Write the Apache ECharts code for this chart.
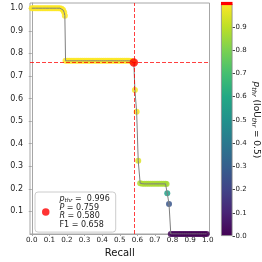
<!DOCTYPE html>
<html><head><meta charset="utf-8">
<script src="https://cdn.jsdelivr.net/npm/echarts@6/dist/echarts.min.js"></script>
<style>html,body{margin:0;padding:0;background:#fff}#c{width:262px;height:262px}</style>
</head><body><div id="c"></div>
<script>
// Precision-recall curve points with their confidence threshold p_thr
const recall = [
  0.000,0.010,0.020,0.030,0.040,0.050,0.060,0.070,0.080,0.090,0.100,0.110,0.120,0.130,0.140,0.150,0.160,0.170,0.178,0.184,0.188,
  0.192,0.204,0.216,0.228,0.240,0.252,0.264,0.276,0.288,0.300,0.312,0.324,0.336,0.348,0.360,0.372,0.384,0.396,0.408,0.420,0.432,0.444,0.456,0.468,0.480,0.492,0.504,0.516,0.528,0.540,0.552,0.564,0.574,
  0.580,
  0.586,0.596,0.605,
  0.616,0.628,0.640,0.652,0.664,0.676,0.688,0.700,0.712,0.724,0.736,0.748,0.760,0.766,
  0.770,0.780,
  0.790,0.802,0.814,0.826,0.838,0.850,0.862,0.874,0.886,0.898,0.910,0.922,0.934,0.946,0.958,0.970,0.982,0.994
];
const precision = [
  1.000,1.000,1.000,1.000,1.000,1.000,1.000,1.000,1.000,1.000,1.000,1.000,1.000,1.000,1.000,1.000,1.000,0.998,0.992,0.982,0.967,
  0.767,0.767,0.767,0.767,0.767,0.767,0.767,0.767,0.767,0.767,0.767,0.767,0.767,0.767,0.767,0.767,0.767,0.767,0.767,0.767,0.767,0.767,0.767,0.767,0.767,0.767,0.767,0.767,0.767,0.767,0.767,0.766,0.764,
  0.759,
  0.638,0.541,0.324,
  0.225,0.223,0.222,0.222,0.222,0.222,0.222,0.222,0.222,0.222,0.222,0.222,0.222,0.221,
  0.180,0.133,
  0.000,0.000,0.000,0.000,0.000,0.000,0.000,0.000,0.000,0.000,0.000,0.000,0.000,0.000,0.000,0.000,0.000,0.000
];
const pThr = [
  0.9999,0.9999,0.9999,0.9999,0.9999,0.9998,0.9998,0.9998,0.9998,0.9997,0.9997,0.9997,0.9996,0.9996,0.9995,0.9995,0.9994,0.9993,0.9992,0.9991,0.9990,
  0.9989,0.9988,0.9988,0.9987,0.9986,0.9986,0.9985,0.9984,0.9983,0.9983,0.9982,0.9981,0.9980,0.9979,0.9978,0.9977,0.9976,0.9975,0.9974,0.9973,0.9972,0.9971,0.9970,0.9969,0.9968,0.9967,0.9966,0.9965,0.9964,0.9963,0.9962,0.9961,0.9961,
  0.996,
  0.990,0.985,0.945,
  0.878,0.877,0.876,0.875,0.874,0.873,0.872,0.871,0.870,0.869,0.868,0.867,0.866,0.865,
  0.565,0.265,
  0.020,0.018,0.016,0.015,0.014,0.012,0.011,0.010,0.009,0.008,0.007,0.006,0.005,0.004,0.003,0.002,0.001,0.000
];
// Operating point
const opPThr = 0.996, opP = 0.759, opR = 0.580, opF1 = 0.658;
// Tick labels
const xTicks = [0.0,0.1,0.2,0.3,0.4,0.5,0.6,0.7,0.8,0.9,1.0];
const yTicks = [0.1,0.2,0.3,0.4,0.5,0.6,0.7,0.8,0.9,1.0];
const cbTicks = [0.0,0.1,0.2,0.3,0.4,0.5,0.6,0.7,0.8,0.9];
const cbRange = [1.0];
const viridis = ['#440154','#482475','#414487','#355f8d','#2a788e','#21918c','#22a884','#44bf70','#7ad151','#bddf26','#fde725'];

const font = 'DejaVu Sans';
const spine = '#a6a6a6';
const pts = recall.map((r,i)=>[r, precision[i], pThr[i]]);
const chart = echarts.init(document.getElementById('c'), null, {renderer:'canvas'});
const grad = new echarts.graphic.LinearGradient(0,1,0,0, viridis.map((c,i)=>({offset:i/(viridis.length-1), color:c})));
const f1 = v => v.toFixed(1);

chart.setOption({
  animation:false,
  textStyle:{fontFamily:font},
  grid:[
    {left:30, top:3, width:179.5, height:231, show:true, borderColor:spine, borderWidth:1, backgroundColor:'transparent', outerBoundsMode:'none', containLabel:false},
    {left:221, top:3.7, width:11.5, height:232.3, outerBoundsMode:'none', containLabel:false}
  ],
  visualMap:{type:'continuous', show:false, min:0, max:1, dimension:2, seriesIndex:0, inRange:{color:viridis}},
  legend:{
    data:['op'], left:35, top:192, padding:[3,6,3,7],
    backgroundColor:'#fff', borderColor:'#cccccc', borderWidth:1, borderRadius:3,
    icon:'circle', itemWidth:7.5, itemHeight:7.5, itemGap:0,
    formatter:()=> '{it|p}{sub|thr}{t| =  '+opPThr.toFixed(3)+'}\n{it|P}{t| = '+opP.toFixed(3)+'}\n{it|R}{t| = '+opR.toFixed(3)+'}\n{t|F1 = '+opF1.toFixed(3)+'}',
    textStyle:{fontFamily:font, fontSize:8, color:'#222', padding:[0,0,0,5],
      rich:{
        t:{fontFamily:font, fontSize:8, lineHeight:8.7, color:'#222'},
        it:{fontFamily:font, fontSize:8, lineHeight:8.7, fontStyle:'italic', color:'#222'},
        sub:{fontFamily:font, fontSize:5.5, lineHeight:5, fontStyle:'italic', verticalAlign:'bottom', color:'#222'}
      }}
  },
  xAxis:[
    {gridIndex:0, type:'value', min:-0.01, max:1.01,
     name:'Recall', nameLocation:'middle', nameGap:13, nameTextStyle:{fontSize:10, color:'#111', fontFamily:font},
     axisLine:{show:true, lineStyle:{color:spine, width:1}},
     axisTick:{show:true, customValues:xTicks, length:2, lineStyle:{color:spine}},
     axisLabel:{customValues:xTicks, formatter:f1, fontSize:7.2, margin:3, color:'#222', fontFamily:font},
     splitLine:{show:false}},
    {gridIndex:1, type:'category', data:['cb'], show:false}
  ],
  yAxis:[
    {gridIndex:0, type:'value', min:0, max:1.023,
     name:'Precision', nameLocation:'middle', nameGap:18, nameTextStyle:{fontSize:10, color:'#111', fontFamily:font},
     axisLine:{show:true, lineStyle:{color:spine, width:1}},
     axisTick:{show:true, customValues:yTicks, length:3, lineStyle:{color:spine}},
     axisLabel:{customValues:yTicks, formatter:f1, fontSize:8, margin:7, color:'#222', fontFamily:font},
     splitLine:{show:false}},
    {gridIndex:1, type:'value', min:0, max:1, position:'right',
     name:'{it|p}{sub|thr}{t| (IoU}{sub|thr}{t| = 0.5)}', nameLocation:'middle', nameRotate:-90, nameGap:13,
     nameTextStyle:{fontSize:9, color:'#111', fontFamily:font,
       rich:{
         t:{fontFamily:font, fontSize:9, color:'#111', lineHeight:11},
         it:{fontFamily:font, fontSize:9, fontStyle:'italic', color:'#111', lineHeight:11},
         sub:{fontFamily:font, fontSize:6.5, fontStyle:'italic', color:'#111', verticalAlign:'bottom', lineHeight:7}
       }},
     axisLine:{show:false},
     axisTick:{show:true, customValues:cbTicks, length:2.5, lineStyle:{color:'#444'}},
     axisLabel:{customValues:cbTicks, formatter:f1, fontSize:7, margin:3, color:'#222', fontFamily:font},
     splitLine:{show:false}}
  ],
  series:[
    {type:'scatter', xAxisIndex:0, yAxisIndex:0, data:pts, symbolSize:6, itemStyle:{opacity:0.85}, z:2, silent:true},
    {type:'line', xAxisIndex:0, yAxisIndex:0, data:pts.map(p=>[p[0],p[1]]), showSymbol:false, symbol:'none',
     lineStyle:{color:'#7f7f7f', width:1}, z:3, silent:true},
    {type:'scatter', name:'op', xAxisIndex:0, yAxisIndex:0, data:[[opR,opP]], symbolSize:8.5, itemStyle:{color:'#ff0000'}, z:5, silent:true,
     markLine:{silent:true, symbol:'none', label:{show:false},
       lineStyle:{type:[4,2], color:'rgba(255,0,0,0.75)', width:1},
       data:[{yAxis:opP, lineStyle:{color:'rgba(255,0,0,0.75)'}},{xAxis:opR, lineStyle:{color:'rgba(255,0,0,0.75)'}}]}},
    {type:'bar', xAxisIndex:1, yAxisIndex:1, data:cbRange, barWidth:'100%', silent:true,
     itemStyle:{color:grad, borderColor:'#8a8a8a', borderWidth:0.8},
     markLine:{silent:true, symbol:'none', label:{show:false},
       lineStyle:{type:'solid', color:'#ff0000', width:3.2}, data:[{yAxis:opPThr}]}}
  ]
});
</script></body></html>
